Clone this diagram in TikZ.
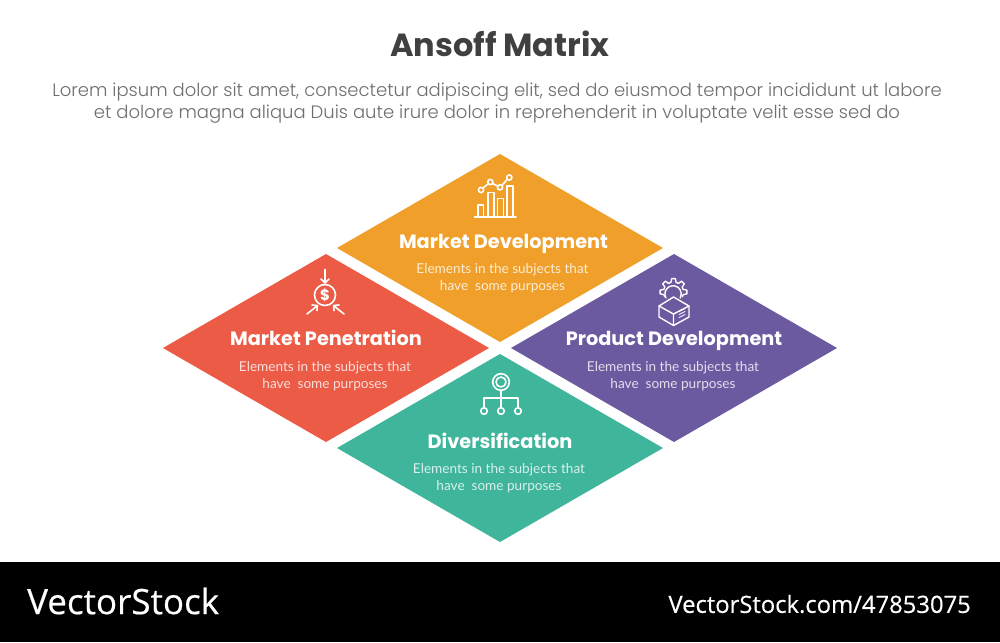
\documentclass[tikz,border=0pt]{standalone}
\usepackage{fontspec}
\usetikzlibrary{calc}
\setmainfont{Poppins}
\newfontfamily\sublight{Poppins Light}
\newfontfamily\bodyfont{Lato}
\newfontfamily\wmfont[FakeBold=0.4]{Open Sans}
\definecolor{cOrange}{HTML}{F0A02A}
\definecolor{cRed}{HTML}{EC5B46}
\definecolor{cPurple}{HTML}{6C5AA0}
\definecolor{cGreen}{HTML}{3FB59B}
\definecolor{cTitle}{HTML}{404040}
\definecolor{cSub}{HTML}{6E6E6E}
\tikzset{
  x=1pt,y=-1pt,
  titletext/.style={font=\fontsize{32}{38}\selectfont\bfseries,text=cTitle,inner sep=0pt,anchor=base},
  subtext/.style={font=\sublight\fontsize{18}{22}\selectfont,text=cSub,inner sep=0pt,anchor=base},
  headtext/.style={font=\fontsize{19.3}{22}\selectfont\bfseries,text=white,inner sep=0pt,anchor=base},
  desctext/.style={font=\bodyfont\fontsize{13.6}{17}\selectfont,text=white,opacity=.8,inner sep=0pt,align=center},
  icon/.style={draw=white,line width=1.6pt,line join=round,line cap=round},
  wmtext/.style={text=white,inner sep=0pt,font=\wmfont},
}
\begin{document}
\begin{tikzpicture}
\useasboundingbox (0,0) rectangle (1000,642);
\fill[white] (0,0) rectangle (1000,642);
\fill[black] (0,562) rectangle (1000,642);
% diamonds
\fill[cOrange] (500,154)--(663,248)--(500,342)--(337,248)--cycle;
\fill[cRed] (326,254)--(489,348)--(326,442)--(163,348)--cycle;
\fill[cPurple] (674,254)--(837,348)--(674,442)--(511,348)--cycle;
\fill[cGreen] (500,354)--(663,448)--(500,542)--(337,448)--cycle;
% title
\node[titletext] (title) at (500,56.5) {Ansoff Matrix};
\node[subtext] (sub1) at (497,96) {Lorem ipsum dolor sit amet, consectetur adipiscing elit, sed do eiusmod tempor incididunt ut labore};
\node[subtext] (sub2) at (497,118) {et dolore magna aliqua Duis aute irure dolor in reprehenderit in voluptate velit esse sed do};
% labels
\node[headtext] (h1) at (503.5,248) {Market Development};
\node[desctext] (d1) at (502.5,278) {Elements in the subjects that\\have\ \ some purposes};
\node[headtext] (h2) at (326,345.5) {Market Penetration};
\node[desctext] (d2) at (325,376) {Elements in the subjects that\\have\ \ some purposes};
\node[headtext] (h3) at (674,345.5) {Product Development};
\node[desctext] (d3) at (673,376) {Elements in the subjects that\\have\ \ some purposes};
\node[headtext] (h4) at (500,448) {Diversification};
\node[desctext] (d4) at (499,478) {Elements in the subjects that\\have\ \ some purposes};
% icon: chart
\begin{scope}[icon]
\draw (474.5,216.7)--(516,216.7);
\draw (478,216.7)--(478,205)--(483.5,205)--(483.5,216.7);
\draw (488,216.7)--(488,192.5)--(494,192.5)--(494,216.7);
\draw (497.5,216.7)--(497.5,198.5)--(503.5,198.5)--(503.5,216.7);
\draw (507,216.7)--(507,186)--(513,186)--(513,216.7);
\draw (483,188)--(488,184) (492.5,183.5)--(497.5,186) (502,185.5)--(507,179.5);
\draw (481,190) circle (2.6) (490.3,182) circle (2.6) (500,187.3) circle (2.6) (509.3,177.5) circle (2.6);
\end{scope}
% icon: dollar
\begin{scope}[icon]
\draw (325,295) circle (10.5);
\draw (325,269.5)--(325,283) (321,279)--(325,283)--(329,279);
\draw (307,314)--(317,306) (312,305)--(317.3,305.5)--(317,310.5);
\draw (344,314)--(334,306) (339,305)--(333.7,305.5)--(334,310.5);
\end{scope}
\node[text=white,inner sep=0pt,font=\fontsize{15}{15}\selectfont\bfseries] (dollar) at (325,295) {\$};
% icon: box with gear
\begin{scope}[icon,line width=1.4pt]
\draw (659,306)--(673.5,297)--(689,306)--(689,317)--(673.5,325.5)--(659,317)--cycle;
\draw (659,306)--(673.5,314)--(689,306) (673.5,314)--(673.5,325.5);
\coordinate (gc) at (673.5,292);
\draw ($(gc)+(152:10)$)
  \foreach \a in {180,225,270,315,360} {
    -- ($(gc)+(\a-15:10)$) -- ($(gc)+(\a-8:13.5)$) -- ($(gc)+(\a+8:13.5)$) -- ($(gc)+(\a+15:10)$)
  } -- ($(gc)+(28:10)$);
\draw (666,298) arc[start angle=150,end angle=390,radius=8.2];
\draw[line width=.8pt] (679,311.5)--(685,308.5) (679,314.5)--(685,311.5) (679,317.5)--(685,314.5);
\end{scope}
% icon: tree
\begin{scope}[icon]
\draw (501,382) circle (8.3) (501,382) circle (5);
\draw (501,390.3)--(501,407.5);
\draw (484,407.5)--(484,398)--(518,398)--(518,407.5);
\draw (484,411) circle (3.3) (501,411) circle (3.3) (518,411) circle (3.3);
\end{scope}
% watermark
\node[wmtext,font=\wmfont\fontsize{35}{40}\selectfont,anchor=west] (wm1) at (27,601) {VectorStock};
\node[wmtext,font=\wmfont\fontsize{23.8}{26}\selectfont,anchor=east] (wm2) at (971,604) {VectorStock.com/47853075};
\end{tikzpicture}
\end{document}
